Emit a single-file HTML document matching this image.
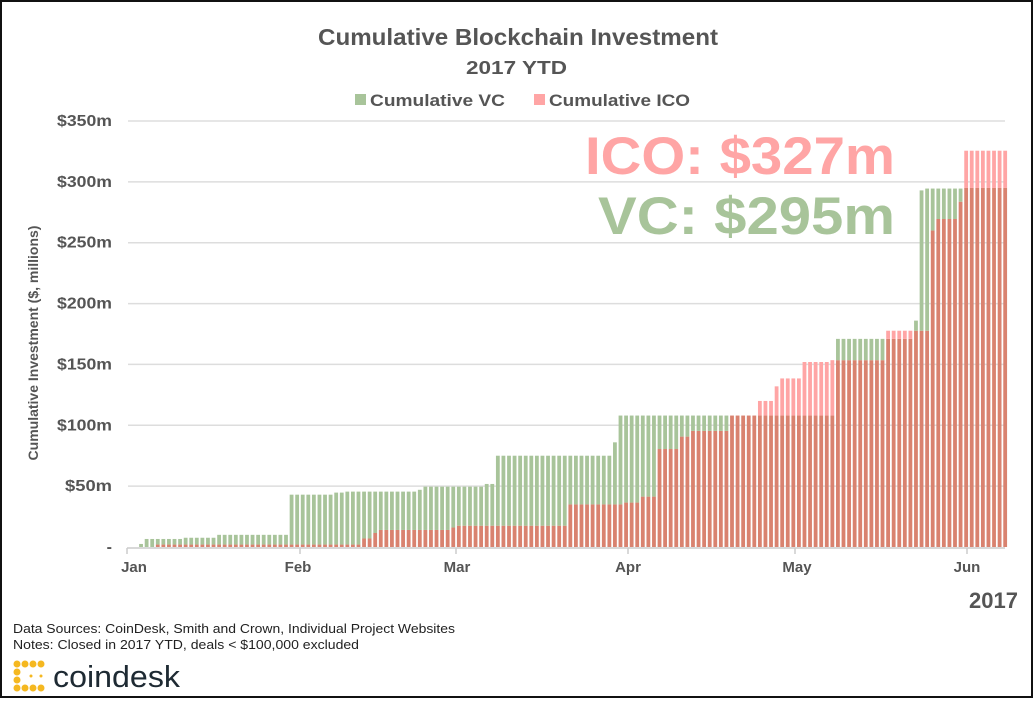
<!DOCTYPE html>
<html><head><meta charset="utf-8"><style>
html,body{margin:0;padding:0;background:#fff;}
body{width:1036px;height:700px;overflow:hidden;}
text{font-family:"Liberation Sans",sans-serif;}
</style></head><body>
<svg id="s" width="1036" height="700" xmlns="http://www.w3.org/2000/svg">
<rect x="1" y="1" width="1031" height="696" fill="#fff" stroke="#111" stroke-width="2"/>
<text x="318" y="45" textLength="400" lengthAdjust="spacingAndGlyphs" font-size="23" font-weight="bold" fill="#555">Cumulative Blockchain Investment</text>
<text x="466" y="74" textLength="101" lengthAdjust="spacingAndGlyphs" font-size="18" font-weight="bold" fill="#555">2017 YTD</text>
<rect x="355" y="94" width="11" height="11" fill="#a8c49a"/>
<text x="370" y="106" textLength="135" lengthAdjust="spacingAndGlyphs" font-size="17" font-weight="bold" fill="#555">Cumulative VC</text>
<rect x="534" y="94" width="11" height="11" fill="#ffa5a5"/>
<text x="549" y="106" textLength="141" lengthAdjust="spacingAndGlyphs" font-size="17" font-weight="bold" fill="#555">Cumulative ICO</text>
<g id="grid" stroke="#ddd" stroke-width="1.5"></g>
<g id="ylab" font-size="16" font-weight="bold" fill="#555" text-anchor="end"></g>
<text transform="translate(38,343) rotate(-90)" text-anchor="middle" font-size="14" font-weight="bold" fill="#555">Cumulative Investment ($, millions)</text>
<g id="bars"></g>
<line x1="127" y1="548" x2="1005" y2="548" stroke="#ccc" stroke-width="1.5"/>
<g id="xt" stroke="#ccc" stroke-width="1.5"></g>
<g font-size="15" font-weight="bold" fill="#555" text-anchor="middle">
<text x="134" y="572">Jan</text><text x="298" y="572">Feb</text><text x="457" y="572">Mar</text>
<text x="628" y="572">Apr</text><text x="797" y="572">May</text><text x="967" y="572">Jun</text>
</g>
<text x="1018" y="608" text-anchor="end" font-size="22" font-weight="bold" fill="#555">2017</text>
<text x="585" y="174" textLength="310" lengthAdjust="spacingAndGlyphs" font-size="53" font-weight="bold" fill="#ffa5a5">ICO: $327m</text>
<text x="598" y="234" textLength="297" lengthAdjust="spacingAndGlyphs" font-size="53" font-weight="bold" fill="#a8c49a">VC: $295m</text>
<text x="13" y="633" textLength="442" lengthAdjust="spacingAndGlyphs" font-size="13" fill="#222">Data Sources: CoinDesk, Smith and Crown, Individual Project Websites</text>
<text x="13" y="649" textLength="346" lengthAdjust="spacingAndGlyphs" font-size="13" fill="#222">Notes: Closed in 2017 YTD, deals &lt; $100,000 excluded</text>
<g fill="#f5b820">
<circle cx="17" cy="664" r="3.5"/><circle cx="25" cy="664" r="3.5"/><circle cx="33" cy="664" r="3.5"/><circle cx="41" cy="664" r="3.5"/>
<circle cx="17" cy="672" r="3.5"/><circle cx="17" cy="680" r="3.5"/><circle cx="17" cy="688" r="3.5"/>
<circle cx="25" cy="688" r="3.5"/><circle cx="33" cy="688" r="3.5"/><circle cx="41" cy="688" r="3.5"/>
<circle cx="31" cy="676" r="1.5"/><circle cx="41" cy="676" r="1.5"/>
</g>
<text x="53" y="687" textLength="127" lengthAdjust="spacingAndGlyphs" font-size="31" fill="#1e2a33">coindesk</text>
</svg>
<script>
var NS="http://www.w3.org/2000/svg";
function el(p,t,a){var e=document.createElementNS(NS,t);for(var k in a)e.setAttribute(k,a[k]);document.getElementById(p).appendChild(e);return e;}
function Y(v){return 547-v*1.2171;}
var labs=["-","$50m","$100m","$150m","$200m","$250m","$300m","$350m"];
for(var i=0;i<8;i++){var y=Y(i*50);if(i>0)el("grid","line",{x1:128,x2:1005,y1:y,y2:y});
var t=el("ylab","text",{x:112,y:y+5});t.textContent=labs[i];
if(i>0){t.setAttribute("textLength",i>=2?55:47);t.setAttribute("lengthAdjust","spacingAndGlyphs");}}
[127,300,456,628,795,967].forEach(function(x){el("xt","line",{x1:x,x2:x,y1:548,y2:554});});
var vcB=[[2,2.5],[3,6.6],[10,7.6],[16,10],[29,43],[37,44.7],[39,45.5],[52,47],[53,49.6],[64,51.8],[66,75],[87,86],[88,108],[127,171],[141,186],[142,293],[143,294.5],[150,295]];
var icB=[[5,2],[42,7],[44,11.5],[45,14],[58,16],[59,17.5],[79,35],[89,36.5],[92,41.4],[95,80.5],[99,90.7],[101,95.4],[108,108],[113,120],[116,132],[117,138.5],[121,152],[126,153.5],[136,177.7],[144,260],[145,269.5],[149,283.7],[150,325.6]];
function val(b,d){var v=0;for(var i=0;i<b.length;i++)if(b[i][0]<=d)v=b[i][1];return v;}
for(var d=0;d<=157;d++){
var x=127+d*5.575+1,w=3.8,a=val(vcB,d),b=val(icB,d),m=Math.min(a,b);
if(m>0)el("bars","rect",{x:x,y:Y(m),width:w,height:m*1.2171,fill:"#d9826f"});
if(a>m)el("bars","rect",{x:x,y:Y(a),width:w,height:(a-m)*1.2171,fill:"#a8c49a"});
if(b>m)el("bars","rect",{x:x,y:Y(b),width:w,height:(b-m)*1.2171,fill:"#ffa5a5"});
}
</script>
</body></html>
